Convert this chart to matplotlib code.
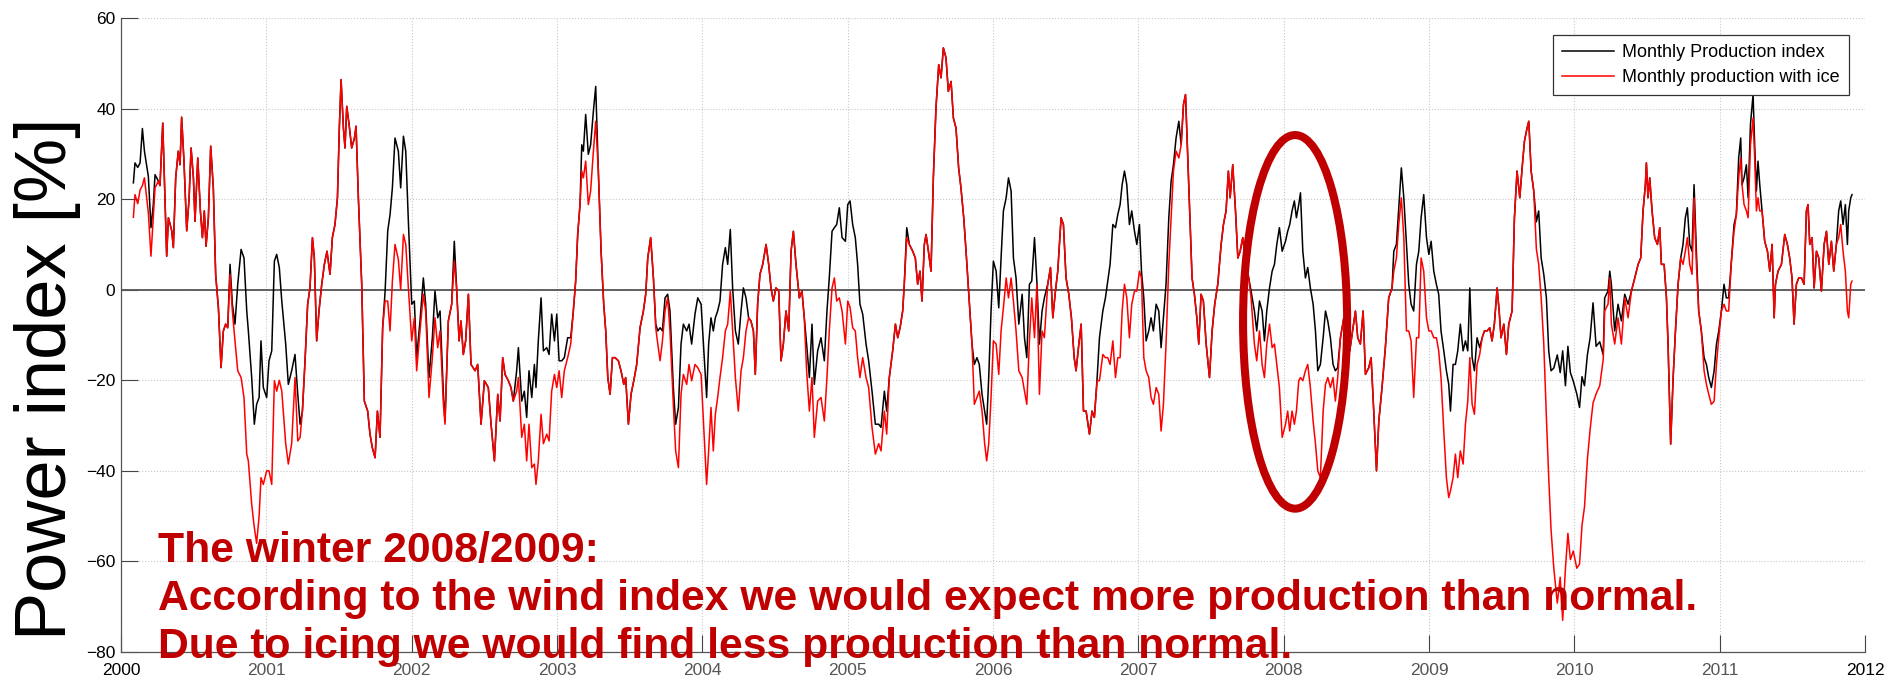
import matplotlib
matplotlib.use("Agg")
import matplotlib.pyplot as plt
from matplotlib.patches import Ellipse

plt.rcParams["font.family"] = ["Liberation Sans", "DejaVu Sans"]

# sample dates (decimal years)
t = [
    2000.085, 2000.096, 2000.115, 2000.131, 2000.147, 2000.161, 2000.188, 2000.206, 2000.222, 2000.234,
    2000.257, 2000.268, 2000.287, 2000.314, 2000.326, 2000.349, 2000.360, 2000.376, 2000.394, 2000.406,
    2000.417, 2000.433, 2000.452, 2000.468, 2000.482, 2000.498, 2000.509, 2000.528, 2000.546, 2000.560,
    2000.573, 2000.585, 2000.601, 2000.617, 2000.635, 2000.651, 2000.670, 2000.688, 2000.704, 2000.720,
    2000.734, 2000.750, 2000.766, 2000.784, 2000.803, 2000.826, 2000.846, 2000.865, 2000.876, 2000.899,
    2000.917, 2000.933, 2000.950, 2000.963, 2000.979,
    2001.002, 2001.018, 2001.037, 2001.055, 2001.071, 2001.089, 2001.106, 2001.133, 2001.151, 2001.174,
    2001.197, 2001.216, 2001.232, 2001.248, 2001.266, 2001.284, 2001.300, 2001.317, 2001.330, 2001.346,
    2001.362, 2001.381, 2001.399, 2001.417, 2001.438, 2001.454, 2001.472, 2001.489, 2001.502, 2001.514,
    2001.530, 2001.541, 2001.553, 2001.569, 2001.587, 2001.606, 2001.617, 2001.633, 2001.656, 2001.674,
    2001.697, 2001.713, 2001.729, 2001.748, 2001.764, 2001.782, 2001.800, 2001.817, 2001.835, 2001.851,
    2001.867, 2001.885, 2001.908, 2001.924, 2001.943, 2001.959, 2001.977,
    2002.000, 2002.018, 2002.034, 2002.057, 2002.080, 2002.096, 2002.119, 2002.142, 2002.160, 2002.179,
    2002.195, 2002.218, 2002.229, 2002.252, 2002.275, 2002.293, 2002.310, 2002.326, 2002.339, 2002.355,
    2002.371, 2002.390, 2002.408, 2002.436, 2002.454, 2002.477, 2002.500, 2002.527, 2002.546, 2002.569,
    2002.592, 2002.608, 2002.626, 2002.642, 2002.665, 2002.683, 2002.699, 2002.722, 2002.734, 2002.757,
    2002.775, 2002.791, 2002.807, 2002.826, 2002.844, 2002.855, 2002.871, 2002.890, 2002.906, 2002.929,
    2002.945, 2002.963, 2002.982, 2002.998,
    2003.014, 2003.032, 2003.050, 2003.073, 2003.094, 2003.112, 2003.128, 2003.142, 2003.158, 2003.170,
    2003.181, 2003.197, 2003.215, 2003.231, 2003.250, 2003.266, 2003.284, 2003.303, 2003.321, 2003.335,
    2003.349, 2003.365, 2003.381, 2003.399, 2003.422, 2003.440, 2003.459, 2003.472, 2003.491, 2003.509,
    2003.532, 2003.548, 2003.571, 2003.594, 2003.610, 2003.624, 2003.644, 2003.663, 2003.679, 2003.693,
    2003.709, 2003.725, 2003.743, 2003.761, 2003.777, 2003.800, 2003.816, 2003.835, 2003.853, 2003.869,
    2003.892, 2003.908, 2003.926, 2003.949, 2003.968, 2003.991,
    2004.029, 2004.043, 2004.059, 2004.075, 2004.089, 2004.105, 2004.121, 2004.139, 2004.158, 2004.174,
    2004.192, 2004.208, 2004.227, 2004.247, 2004.266, 2004.282, 2004.300, 2004.318, 2004.334, 2004.351,
    2004.364, 2004.380, 2004.396, 2004.415, 2004.438, 2004.456, 2004.472, 2004.488, 2004.506, 2004.525,
    2004.541, 2004.557, 2004.575, 2004.594, 2004.610, 2004.626, 2004.644, 2004.667, 2004.685, 2004.701,
    2004.717, 2004.736, 2004.754, 2004.770, 2004.793, 2004.816, 2004.839, 2004.857, 2004.873, 2004.892,
    2004.908, 2004.924, 2004.942, 2004.961, 2004.984,
    2005.000, 2005.016, 2005.034, 2005.052, 2005.068, 2005.084, 2005.103, 2005.126, 2005.144, 2005.167,
    2005.190, 2005.213, 2005.229, 2005.252, 2005.268, 2005.286, 2005.309, 2005.328, 2005.344, 2005.360,
    2005.378, 2005.389, 2005.406, 2005.424, 2005.447, 2005.465, 2005.481, 2005.497, 2005.511, 2005.527,
    2005.539, 2005.555, 2005.573, 2005.589, 2005.607, 2005.626, 2005.642, 2005.658, 2005.676, 2005.692,
    2005.711, 2005.727, 2005.745, 2005.763, 2005.779, 2005.798, 2005.814, 2005.837, 2005.855, 2005.871,
    2005.889, 2005.905, 2005.924, 2005.942, 2005.956, 2005.970, 2005.986,
    2006.002, 2006.021, 2006.039, 2006.055, 2006.071, 2006.090, 2006.106, 2006.124, 2006.140, 2006.158,
    2006.177, 2006.200, 2006.216, 2006.232, 2006.250, 2006.266, 2006.285, 2006.301, 2006.319, 2006.337,
    2006.353, 2006.376, 2006.395, 2006.411, 2006.429, 2006.445, 2006.468, 2006.484, 2006.502, 2006.521,
    2006.539, 2006.558, 2006.571, 2006.590, 2006.606, 2006.622, 2006.640, 2006.663, 2006.681, 2006.697,
    2006.716, 2006.732, 2006.755, 2006.773, 2006.789, 2006.805, 2006.824, 2006.842, 2006.858, 2006.874,
    2006.888, 2006.904, 2006.920, 2006.938, 2006.954, 2006.973, 2006.989,
    2007.007, 2007.021, 2007.037, 2007.053, 2007.071, 2007.087, 2007.103, 2007.122, 2007.140, 2007.156,
    2007.172, 2007.190, 2007.209, 2007.225, 2007.241, 2007.259, 2007.278, 2007.294, 2007.310, 2007.324,
    2007.340, 2007.356, 2007.369, 2007.385, 2007.402, 2007.415, 2007.431, 2007.447, 2007.466, 2007.489,
    2007.507, 2007.525, 2007.546, 2007.569, 2007.585, 2007.603, 2007.619, 2007.631, 2007.649, 2007.668,
    2007.684, 2007.700, 2007.718, 2007.736, 2007.759, 2007.775, 2007.798, 2007.814, 2007.833, 2007.851,
    2007.867, 2007.883, 2007.902, 2007.920, 2007.936, 2007.952, 2007.970, 2007.989,
    2008.012, 2008.027, 2008.041, 2008.057, 2008.073, 2008.087, 2008.103, 2008.115, 2008.131, 2008.149,
    2008.165, 2008.183, 2008.202, 2008.218, 2008.234, 2008.252, 2008.271, 2008.287, 2008.303, 2008.321,
    2008.339, 2008.355, 2008.371, 2008.390, 2008.413, 2008.436, 2008.454, 2008.477, 2008.493, 2008.509,
    2008.527, 2008.546, 2008.562, 2008.585, 2008.601, 2008.619, 2008.638, 2008.654, 2008.676, 2008.699,
    2008.722, 2008.745, 2008.757, 2008.775, 2008.791, 2008.809, 2008.826, 2008.844, 2008.860, 2008.876,
    2008.894, 2008.913, 2008.929, 2008.945, 2008.963, 2008.982, 2008.998,
    2009.014, 2009.032, 2009.050, 2009.066, 2009.082, 2009.101, 2009.119, 2009.135, 2009.147, 2009.165,
    2009.181, 2009.197, 2009.215, 2009.234, 2009.250, 2009.266, 2009.280, 2009.296, 2009.312, 2009.330,
    2009.348, 2009.365, 2009.381, 2009.399, 2009.417, 2009.433, 2009.449, 2009.468, 2009.482, 2009.495,
    2009.514, 2009.532, 2009.548, 2009.571, 2009.587, 2009.605, 2009.624, 2009.640, 2009.656, 2009.674,
    2009.686, 2009.702, 2009.720, 2009.738, 2009.754, 2009.771, 2009.789, 2009.807, 2009.823, 2009.839,
    2009.858, 2009.882, 2009.902, 2009.919, 2009.938, 2009.955, 2009.972, 2009.992,
    2010.016, 2010.035, 2010.052, 2010.069, 2010.089, 2010.108, 2010.128, 2010.149, 2010.174, 2010.198,
    2010.208, 2010.231, 2010.243, 2010.254, 2010.277, 2010.300, 2010.323, 2010.346, 2010.369, 2010.392,
    2010.415, 2010.438, 2010.456, 2010.472, 2010.488, 2010.495, 2010.506, 2010.518, 2010.534, 2010.552,
    2010.571, 2010.587, 2010.598, 2010.617, 2010.633, 2010.644, 2010.656, 2010.662, 2010.679, 2010.695,
    2010.713, 2010.731, 2010.747, 2010.763, 2010.777, 2010.793, 2010.809, 2010.823, 2010.839, 2010.855,
    2010.873, 2010.892, 2010.908, 2010.924, 2010.942, 2010.961, 2010.977, 2010.993,
    2011.011, 2011.029, 2011.045, 2011.061, 2011.080, 2011.098, 2011.114, 2011.130, 2011.144, 2011.153,
    2011.167, 2011.183, 2011.195, 2011.211, 2011.229, 2011.240, 2011.252, 2011.263, 2011.275, 2011.291,
    2011.309, 2011.328, 2011.344, 2011.360, 2011.374, 2011.383, 2011.401, 2011.424, 2011.447, 2011.465,
    2011.481, 2011.497, 2011.511, 2011.527, 2011.543, 2011.562, 2011.580, 2011.596, 2011.607, 2011.619,
    2011.635, 2011.649, 2011.665, 2011.681, 2011.699, 2011.718, 2011.734, 2011.750, 2011.768, 2011.784,
    2011.802, 2011.818, 2011.832, 2011.848, 2011.864, 2011.878, 2011.887, 2011.901, 2011.910,
]

# power index without icing losses [%]
production_index = [
    23.6, 28, 27, 28, 35.6, 30.6, 25, 13.7, 18.8, 25.4,
    24, 23, 36.8, 7.4, 15.9, 13, 9.3, 24.7, 30.6, 27.6,
    38.1, 28.4, 13, 20, 31.3, 24.7, 15.1, 29.1, 17.4, 11.5,
    17.4, 9.6, 15.9, 31.7, 22.5, 3.4, -4, -17.2, -9.1, -7.6,
    -8.4, 5.6, -3.2, -7.6, 1.2, 8.9, 7, -4.7, -9.1, -19.4,
    -29.7, -25.3, -23.8, -11.3, -21.6,
    -23.8, -15.7, -13.5, 6.3, 7.8, 4.9, -2.5, -12, -20.9, -17.9,
    -14.3, -23.1, -29.7, -26.8, -15.7, -3.2, 0.4, 11.5, 7, -11.3,
    -4.7, 1.2, 5.6, 8.5, 3.4, 11.5, 14.4, 20.3, 35.7, 46.4,
    35.7, 31.3, 40.5, 36.5, 31.3, 33.5, 36.1, 20.3, 1.2, -24.6,
    -26.8, -31.9, -34.9, -37.1, -26.8, -32.6, -8.4, -0.3, 13, 16.6,
    22.5, 33.5, 30.6, 22.5, 33.9, 30.6, 15.1,
    -3.2, -2.5, -15, -6.9, 2.6, -3.2, -19.4, -10.6, -0.3, -6.2,
    -4.7, -23.1, -29, -6.9, -3.2, 10.7, -0.3, -11.3, -6.9, -14.3,
    -11.3, -1, -16.5, -17.9, -16.5, -29.7, -20.1, -21.6, -29.7, -37.8,
    -23.1, -29, -15, -18.7, -20.1, -21.6, -24.6, -17.9, -12.8, -24.6,
    -22.4, -28.2, -17.9, -23.8, -16.5, -21.6, -11.3, -1.8, -13.5, -12.8,
    -14.3, -5.4, -11.3, -5.4,
    -15.7, -15.7, -15, -10.6, -10.6, -4.7, 1.9, 12.2, 18.8, 32,
    30.6, 38.7, 29.9, 32, 39.4, 44.9, 26.2, 8.5, -3.2, -9.1,
    -19.4, -23.1, -15, -15, -15.7, -17.9, -20.9, -19.4, -29.7, -23.1,
    -19.4, -16.5, -8.4, -4.7, -1, 7, 11.5, 2.6, -7.6, -9.1,
    -8.4, -9.1, -1.8, -1, -4.7, -21.6, -29.7, -26, -12, -7.6,
    -9.1, -7.6, -12, -5.4, -1.8, -3.2,
    -23.8, -12, -6.2, -9.1, -6.2, -4.7, -2.5, 5.6, 9.3, 5.6,
    13.3, 0.4, -9.1, -12, -4.7, 0.4, -1.8, -6.2, -6.9, -9.1,
    -18.7, -3.2, 3.4, 5.6, 10, 5.6, 0.4, -2.5, 0.4, -0.3,
    -15.7, -12, -4.7, -9.1, 8.5, 12.9, 5.6, -1.8, -0.3, -6.2,
    -12, -19.4, -7.6, -20.9, -13.5, -10.6, -15.7, -4.7, 2.6, 12.9,
    13.7, 14.4, 18.1, 11.5, 10.7,
    18.8, 19.6, 14.4, 11.5, 5.6, -3.2, -5.4, -12, -15.7, -22.4,
    -29.7, -29.7, -30.4, -22.4, -26.8, -19.4, -13.5, -7.6, -10.6, -8.4,
    -4.7, 1.2, 13.7, 10, 8.5, 7, 1.2, 4.1, -2.5, 10,
    12.2, 8.5, 4.1, 24.7, 40.1, 49.7, 46.8, 53.4, 51.2, 43.8,
    46, 37.9, 35.7, 26.9, 22.5, 15.9, 8.5, -3.2, -12, -16.5,
    -15, -16.5, -23.1, -26.8, -29.7, -19.4, -4.7,
    6.3, 4.1, -4, 7, 17.4, 20.3, 24.7, 21.8, 7, 2.6,
    -7.6, -1, -10.6, -15, 1.2, 1.9, 11.5, 1.9, -12, -4.7,
    -1.8, 1.2, 4.9, -6.2, -0.3, 4.1, 15.9, 14.4, 2.6, -1,
    -6.2, -15, -17.9, -12, -7.6, -26.8, -26.8, -31.9, -26.8, -28.2,
    -19.4, -10.6, -4.7, -1.8, 1.9, 5.6, 14.4, 13.7, 16.6, 18.8,
    23.2, 26.2, 23.2, 14.4, 17.4, 12.9, 10,
    14.4, 4.1, -1.8, -11.3, -9.1, -6.2, -9.1, -3.2, -4.7, -12.8,
    -6.2, 1.2, 15.9, 24, 27.6, 33.5, 37.2, 32, 40.9, 43.1,
    28.4, 14.4, 2.6, -1, -6.2, -12, -1, -2.5, -12, -19.4,
    -9.1, -3.2, 1.2, 10, 14.4, 17.4, 26.2, 20.3, 27.6, 17.4,
    7, 8.5, 11.5, 6.3, 2.6, -0.3, -4.7, -9.1, -2.5, -4.7,
    -11.3, -4.7, 0.4, 4.1, 5.6, 10, 13.7, 8.5,
    10.7, 12.9, 14.4, 17.4, 19.6, 15.9, 18.8, 21.4, 8.5, 2.6,
    4.9, 0.4, -3.2, -9.1, -17.9, -16.5, -10.6, -4.7, -6.9, -10.6,
    -16.5, -17.9, -17.2, -10.6, -6.2, -12, -13.5, -8.4, -4.7, -10.6,
    -12, -4.7, -18.7, -17.2, -15, -26.8, -40, -29, -21.6, -12.8,
    -1.8, 0.4, 8.5, 10, 18.1, 26.9, 20.3, 10, 1.2, -3.2,
    -4.7, 5.6, 8.5, 15.9, 21, 11.5, 7.8,
    10.7, 4.1, 1.2, -1, -9.1, -13.5, -17.9, -20.9, -26.8, -16.5,
    -16.5, -13.5, -7.6, -13.5, -11.3, -13.5, 0.4, -15, -17.9, -10.6,
    -12.8, -10.6, -9.1, -9.1, -8.4, -11.3, -7.6, 0.4, -4.7, -10.6,
    -7.6, -14.3, -7.6, -4.7, 15.9, 26.2, 20.3, 26.9, 32.8, 35.7,
    37.2, 26.2, 21.8, 15, 17.4, 7, 3.4, -1.8, -13.5, -17.9,
    -17.3, -14.4, -18.3, -13.5, -21.2, -12.5, -18.3, -20.2,
    -23, -26, -19.2, -21.2, -14.4, -10.6, -2.9, -12.5, -11.5, -14.4,
    -1.8, -0.3, 4.1, 1.2, -9.1, -3.2, -6.9, -1, -3.2, -0.3,
    2.6, 5.6, 7, 17.4, 23.2, 28, 20.3, 24.7, 17.4, 11.5,
    10, 13.7, 5.6, 5.6, -1.8, -12, -26.8, -34.1, -19.4, -9.1,
    1.2, 7, 10, 15.9, 18.1, 10, 8.5, 23.2, 8.5, -4.7,
    -9.1, -15, -16.5, -19.4, -21.6, -17.9, -12, -9.1,
    -4.7, 1.2, -1.8, -1.8, 6.3, 14.4, 16.6, 29.1, 33.5, 23.2,
    24.7, 27.6, 20.3, 36.5, 43.1, 32, 21.8, 28.4, 23.2, 17.4,
    10.7, 8.5, 4.1, 10, -6.2, 1.2, 4.1, 5.6, 12.2, 10,
    7, 2.6, -7.6, 1.2, 2.6, 2.6, 1.2, 17.4, 18.8, 10,
    11.5, 0.4, 8.5, 7, -0.3, 10, 12.9, 5.6, 10.7, 4.1,
    10, 17.4, 19.6, 14.4, 18.8, 10, 17.4, 20.3, 21,
]

# power index including icing losses [%]
production_ice = [
    16, 21, 19, 22, 23, 24.7, 17, 7.4, 16, 22.5,
    24, 23, 36.8, 7.4, 15.9, 13, 9.3, 24.7, 30.6, 27.6,
    38.1, 28.4, 13, 20, 31.3, 24.7, 15.1, 29.1, 17.4, 11.5,
    17.4, 9.6, 15.9, 31.7, 22.5, 3.4, -4, -17.2, -9.1, -7.6,
    -8.4, 3.4, -4.7, -11.3, -17.9, -19.4, -23.8, -36.3, -37.8, -47.4,
    -52.5, -56, -50, -41.5, -43,
    -40, -40, -43, -20.1, -22.4, -20, -22.4, -34, -38.5, -34,
    -19.4, -33.4, -32.6, -26.8, -15.7, -3.2, 0.4, 11.5, 7, -11.3,
    -4.7, 1.2, 5.6, 8.5, 3.4, 11.5, 14.4, 20.3, 35.7, 46.4,
    35.7, 31.3, 40.5, 36.5, 31.3, 33.5, 36.1, 20.3, 1.2, -24.6,
    -26.8, -31.9, -34.9, -37.1, -26.8, -32.6, -8.4, -2.5, -2.5, -9.1,
    1.9, 10, 6.7, 0, 12.2, 10, 0.4,
    -11.3, -6.2, -17.9, -9.1, -1, -4.7, -23.8, -15, -6.2, -12.8,
    -9.1, -25.3, -29.7, -6.9, -3.2, 6.3, -0.3, -11.3, -6.9, -14.3,
    -11.3, -1, -16.5, -17.9, -16.5, -29.7, -20.1, -21.6, -29.7, -37.8,
    -23.1, -29, -15, -18.7, -20.1, -21.6, -24.6, -22.4, -19.4, -32.6,
    -29.7, -37.8, -29.7, -39.3, -38.5, -43, -37.8, -27.5, -34, -31.9,
    -33.4, -22.4, -18.7, -21.6,
    -17.9, -23.8, -17.9, -15, -12, -4.7, 1.9, 12.2, 18.8, 26.2,
    24.7, 28.4, 18.8, 21.8, 30.6, 37.2, 26.2, 8.5, -3.2, -9.1,
    -19.4, -23.1, -15, -15, -15.7, -17.9, -20.9, -19.4, -29.7, -23.1,
    -19.4, -16.5, -8.4, -4.7, -1, 7, 11.5, 2.6, -8.4, -12,
    -15.7, -11.3, -4.7, -1.8, -9.1, -25.3, -35.6, -39.3, -23.1, -18.7,
    -20.9, -16.5, -20.1, -16.5, -17.2, -18.7,
    -43, -35.6, -26, -35.6, -27.5, -23.8, -19.4, -15, -9.1, -7.6,
    -0.3, -9.1, -19.4, -26.8, -17.9, -15, -9.1, -6.2, -6.9, -9.1,
    -18.7, -3.2, 3.4, 5.6, 10, 5.6, 0.4, -2.5, 0.4, -0.3,
    -15.7, -12, -4.7, -9.1, 8.5, 12.9, 5.6, -1.8, -0.3, -6.2,
    -17.9, -26.8, -19.4, -32.6, -24.6, -23.8, -29, -19.4, -9.1, 0.4,
    2.6, -2.5, -1.8, -4.7, -12,
    -2.5, -3.9, -8.4, -9.1, -15, -19.4, -15, -19.4, -21.6, -30.4,
    -36.3, -34, -35.6, -26.8, -31.9, -19.4, -13.5, -7.6, -10.6, -8.4,
    -4.7, 1.2, 11.5, 10, 8.5, 7, 1.2, 4.1, -2.5, 10,
    12.2, 8.5, 4.1, 24.7, 40.1, 49.7, 46.8, 53.4, 51.2, 43.8,
    46, 37.9, 35.7, 26.9, 22.5, 15.9, 8.5, -3.2, -12, -25.3,
    -23.8, -22.4, -26.8, -34, -37.8, -34, -23.8,
    -11.3, -12, -18.7, -9.1, -4, 2.6, -1.8, 2.6, -2.5, -9.1,
    -17.9, -19.4, -22.4, -25.3, -11.3, -1.8, -10.6, 1.2, -23.1, -9.1,
    -10.6, 1.2, 4.9, -6.2, -0.3, 4.1, 15.9, 14.4, 2.6, -1,
    -6.2, -15, -17.9, -12, -7.6, -26.8, -26.8, -31.9, -26.8, -28.2,
    -20.1, -20.1, -14.3, -15, -15, -16.5, -11.3, -19.4, -15, -15,
    -4.7, 1.2, -1.8, -10.6, -3.2, -0.3, -0.3,
    4.1, 2.6, -15, -17.9, -19.4, -23.8, -25.3, -21.6, -23.1, -31.2,
    -25.3, -12, 5.6, 15.9, 26.2, 30.6, 29.1, 32, 40.9, 43.1,
    28.4, 14.4, 2.6, -1, -6.2, -12, -1, -2.5, -12, -19.4,
    -9.1, -3.2, 1.2, 10, 14.4, 17.4, 26.2, 20.3, 27.6, 17.4,
    7, 8.5, 11.5, 6.3, 2.6, -1.8, -12, -15.7, -9.1, -16.5,
    -19.4, -12, -7.6, -12.8, -12, -16.5, -21.6, -32.6,
    -29.7, -26.8, -31.2, -26.8, -29.7, -26.8, -20.1, -19.4, -20.1, -17.9,
    -16.5, -21.6, -29, -34, -40, -41.5, -26.8, -20.9, -19.4, -21.6,
    -19.4, -24.6, -19.4, -10.6, -6.2, -12, -13.5, -8.4, -4.7, -10.6,
    -12, -4.7, -18.7, -17.2, -15, -26.8, -40, -29, -21.6, -12.8,
    -1.8, 0.4, 4.1, 7, 14.4, 20.3, 11.5, -9.1, -9.1, -11.3,
    -23.8, -10.6, -10.6, 7, 4.1, -6.2, -9.1,
    -9.1, -10.6, -10.6, -13.5, -19.4, -31.2, -41.5, -45.9, -44.4, -41.5,
    -36.3, -41.5, -35.6, -38.5, -29.7, -24.6, -15, -25.3, -27.5, -16.5,
    -14.3, -10.6, -9.1, -9.1, -8.4, -11.3, -7.6, 0.4, -4.7, -10.6,
    -7.6, -14.3, -7.6, -4.7, 15.9, 26.2, 20.3, 26.9, 32.8, 35.7,
    37.2, 26.2, 21.8, 9, 5.6, -1.8, -12, -28.2, -41.5, -53,
    -61.5, -69.2, -63.5, -73, -61.5, -53.8, -59.6, -57.7,
    -61.5, -60.6, -52, -48, -37.5, -30.8, -25, -23, -21.2, -15.4,
    -4.7, -3.2, 2.6, -7.6, -12, -6.2, -12, -1.8, -6.2, -0.3,
    2.6, 5.6, 7, 17.4, 23.2, 28, 20.3, 24.7, 17.4, 11.5,
    10, 13.7, 5.6, 5.6, -1.8, -12, -26.8, -34.1, -19.4, -9.1,
    1.2, 7, 5.6, 8.5, 11.5, 5.6, 3.4, 20.3, 5.6, -4.7,
    -9.1, -17.9, -20.9, -23.1, -25.3, -24.6, -16.5, -10.6,
    -4.7, -3.2, -4.7, -4.7, 6.3, 12.9, 16.6, 24.7, 29.1, 23.2,
    18.8, 17.4, 15.9, 32, 37.9, 29.1, 17.4, 20.3, 17.4, 17.4,
    10.7, 8.5, 4.1, 10, -6.2, 1.2, 4.1, 5.6, 12.2, 10,
    7, 2.6, -7.6, 1.2, 2.6, 2.6, 1.2, 17.4, 18.8, 10,
    11.5, 0.4, 8.5, 7, -0.3, 10, 12.9, 5.6, 10.7, 4.1,
    10, 11.5, 14.4, 8.5, 4.1, -4.7, -6.2, 1.2, 1.9,
]

assert len(t) == len(production_index) == len(production_ice)

year_ticks = list(range(2000, 2013))
pct_ticks = list(range(-80, 61, 20))

note_lines = [
    "The winter 2008/2009:",
    "According to the wind index we would expect more production than normal.",
    "Due to icing we would find less production than normal.",
]
dark_red = "#C00000"

fig = plt.figure(figsize=(19.03, 6.85), dpi=100)
ax = fig.add_axes([0.0636, 0.0482, 0.9165, 0.9255])

ax.plot(t, production_index, color="black", lw=1.1, label="Monthly Production index", zorder=3)
ax.plot(t, production_ice, color="red", lw=1.1, label="Monthly production with ice", zorder=4)
ax.axhline(0, color="#555555", lw=1.3, zorder=2)

ax.set_xlim(2000, 2012)
ax.set_ylim(-80, 60)
ax.set_xticks(year_ticks)
ax.set_yticks(pct_ticks)
ax.set_xticklabels([str(y) for y in year_ticks])
for lbl in ax.get_xticklabels()[1:-1]:
    lbl.set_color("#555555")

ax.grid(True, linestyle=":", color="#c8c8c8", lw=0.8)
ax.tick_params(direction="in", length=12, width=0.8, color="#444444", labelsize=12.5)
ax.tick_params(axis="y", pad=4)
ax.tick_params(axis="x", pad=8)
for side in ("top", "right"):
    ax.spines[side].set_visible(False)
for side in ("left", "bottom"):
    ax.spines[side].set_color("#555555")
    ax.spines[side].set_linewidth(0.9)

# circle around the 2008/2009 winter
ax.add_patch(Ellipse((2008.078, -7.1), 0.716, 82.5, fill=False,
                     ec=dark_red, lw=5.8, zorder=6))

leg = ax.legend(loc="upper right", bbox_to_anchor=(1858 / 1903, 1 - 26 / 685),
                bbox_transform=fig.transFigure, fontsize=13, handlelength=2.9,
                handletextpad=0.45, labelspacing=0.45, borderpad=0.5,
                fancybox=False, framealpha=1, edgecolor="#333333")
leg.get_frame().set_linewidth(0.9)

fig.text(0.0247, 0.447, "Power index [%]", rotation=90, fontsize=52,
         ha="center", va="center")

for line, ypos in zip(note_lines, (0.1796, 0.1095, 0.0394)):
    fig.text(0.083, ypos, line, color=dark_red, fontsize=30.7,
             fontweight="bold", ha="left", va="baseline", zorder=10)

fig.savefig("out.png", dpi=100)
